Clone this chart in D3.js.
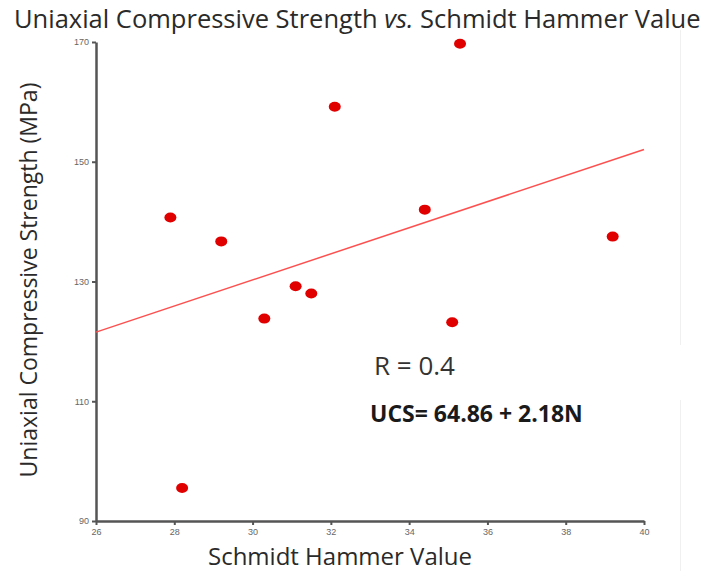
<!DOCTYPE html>
<html>
<head>
<meta charset="utf-8">
<script src="https://cdn.jsdelivr.net/npm/d3@7"></script>
<style>
  body { margin: 0; background: #fff; }
  text { font-family: "Open Sans", "Noto Sans", sans-serif; }
</style>
</head>
<body>
<div id="chart"></div>
<script>
// values
var hammerValues = [27.9, 29.2, 28.2, 30.3, 31.1, 31.5, 32.1, 34.4, 35.1, 35.3, 39.2];
var ucsValues = [140.7, 136.7, 95.5, 123.8, 129.2, 128.0, 159.2, 142.0, 123.2, 169.7, 137.5];
var xTicks = [26, 28, 30, 32, 34, 36, 38, 40];
var yTicks = [90, 110, 130, 150, 170];
var fitIntercept = 64.86,
    fitSlope = 2.18;

var width = 712,
    height = 571,
    margin = {top: 42, right: 68, bottom: 50, left: 96};

var xScale = d3.scaleLinear()
    .domain([26, 40])
    .range([margin.left, width - margin.right]);

var yScale = d3.scaleLinear()
    .domain([90, 170])
    .range([height - margin.bottom, margin.top]);

var svg = d3.select("#chart")
    .append("svg")
    .attr("width", width)
    .attr("height", height);

// faint border line on the right
svg.append("line")
    .attr("x1", 680.5).attr("x2", 680.5)
    .attr("y1", 30).attr("y2", 345)
    .attr("stroke", "#f0f0f0");
svg.append("line")
    .attr("x1", 680.5).attr("x2", 680.5)
    .attr("y1", 400).attr("y2", 571)
    .attr("stroke", "#f0f0f0");

var xAxis = svg.append("g")
    .attr("transform", "translate(0," + yScale(90) + ")")
    .call(d3.axisBottom(xScale).tickValues(xTicks).tickSize(4).tickSizeOuter(0).tickPadding(3));

var yAxis = svg.append("g")
    .attr("transform", "translate(" + xScale(26) + ",0)")
    .call(d3.axisLeft(yScale).tickValues(yTicks).tickSize(4).tickSizeOuter(0).tickPadding(3));

[xAxis, yAxis].forEach(function(ax) {
    ax.select(".domain").attr("stroke", "#555").attr("stroke-width", 2.5);
    ax.selectAll(".tick line").attr("stroke", "#555").attr("stroke-width", 2);
    ax.selectAll(".tick text")
        .attr("fill", "#666")
        .style("font-size", "9px")
        .style("font-family", "Liberation Sans, sans-serif");
});
xAxis.selectAll(".tick text").attr("dy", "0.75em");

// fitted line
svg.append("line")
    .attr("x1", xScale(26))
    .attr("y1", yScale(fitIntercept + fitSlope * 26))
    .attr("x2", xScale(40))
    .attr("y2", yScale(fitIntercept + fitSlope * 40))
    .attr("stroke", "#ff5050")
    .attr("stroke-width", 1.5);

// points
svg.selectAll(".pt")
    .data(hammerValues)
    .enter()
    .append("ellipse")
    .attr("class", "pt")
    .attr("cx", function(d) { return xScale(d); })
    .attr("cy", function(d, i) { return yScale(ucsValues[i]); })
    .attr("rx", 6)
    .attr("ry", 5)
    .attr("fill", "#e00000");

// title
var title = svg.append("text")
    .attr("x", 14)
    .attr("y", 28)
    .attr("fill", "#2a2a2a")
    .style("font-size", "25.5px");
title.append("tspan").text("Uniaxial Compressive Strength ");
title.append("tspan").style("font-style", "italic").text("vs.");
title.append("tspan").text(" Schmidt Hammer Value");

// axis labels
svg.append("text")
    .attr("x", 340)
    .attr("y", 565)
    .attr("text-anchor", "middle")
    .attr("fill", "#2a2a2a")
    .style("font-size", "24px")
    .text("Schmidt Hammer Value");

svg.append("text")
    .attr("transform", "translate(37,280) rotate(-90)")
    .attr("text-anchor", "middle")
    .attr("fill", "#2a2a2a")
    .style("font-size", "23px")
    .text("Uniaxial Compressive Strength (MPa)");

// annotations
svg.append("text")
    .attr("x", 374)
    .attr("y", 375)
    .attr("fill", "#333")
    .style("font-size", "26px")
    .text("R = 0.4");

svg.append("text")
    .attr("x", 370)
    .attr("y", 422)
    .attr("fill", "#1a1a1a")
    .style("font-size", "23px")
    .style("font-weight", "bold")
    .text("UCS= 64.86 + 2.18N");
</script>
</body>
</html>
